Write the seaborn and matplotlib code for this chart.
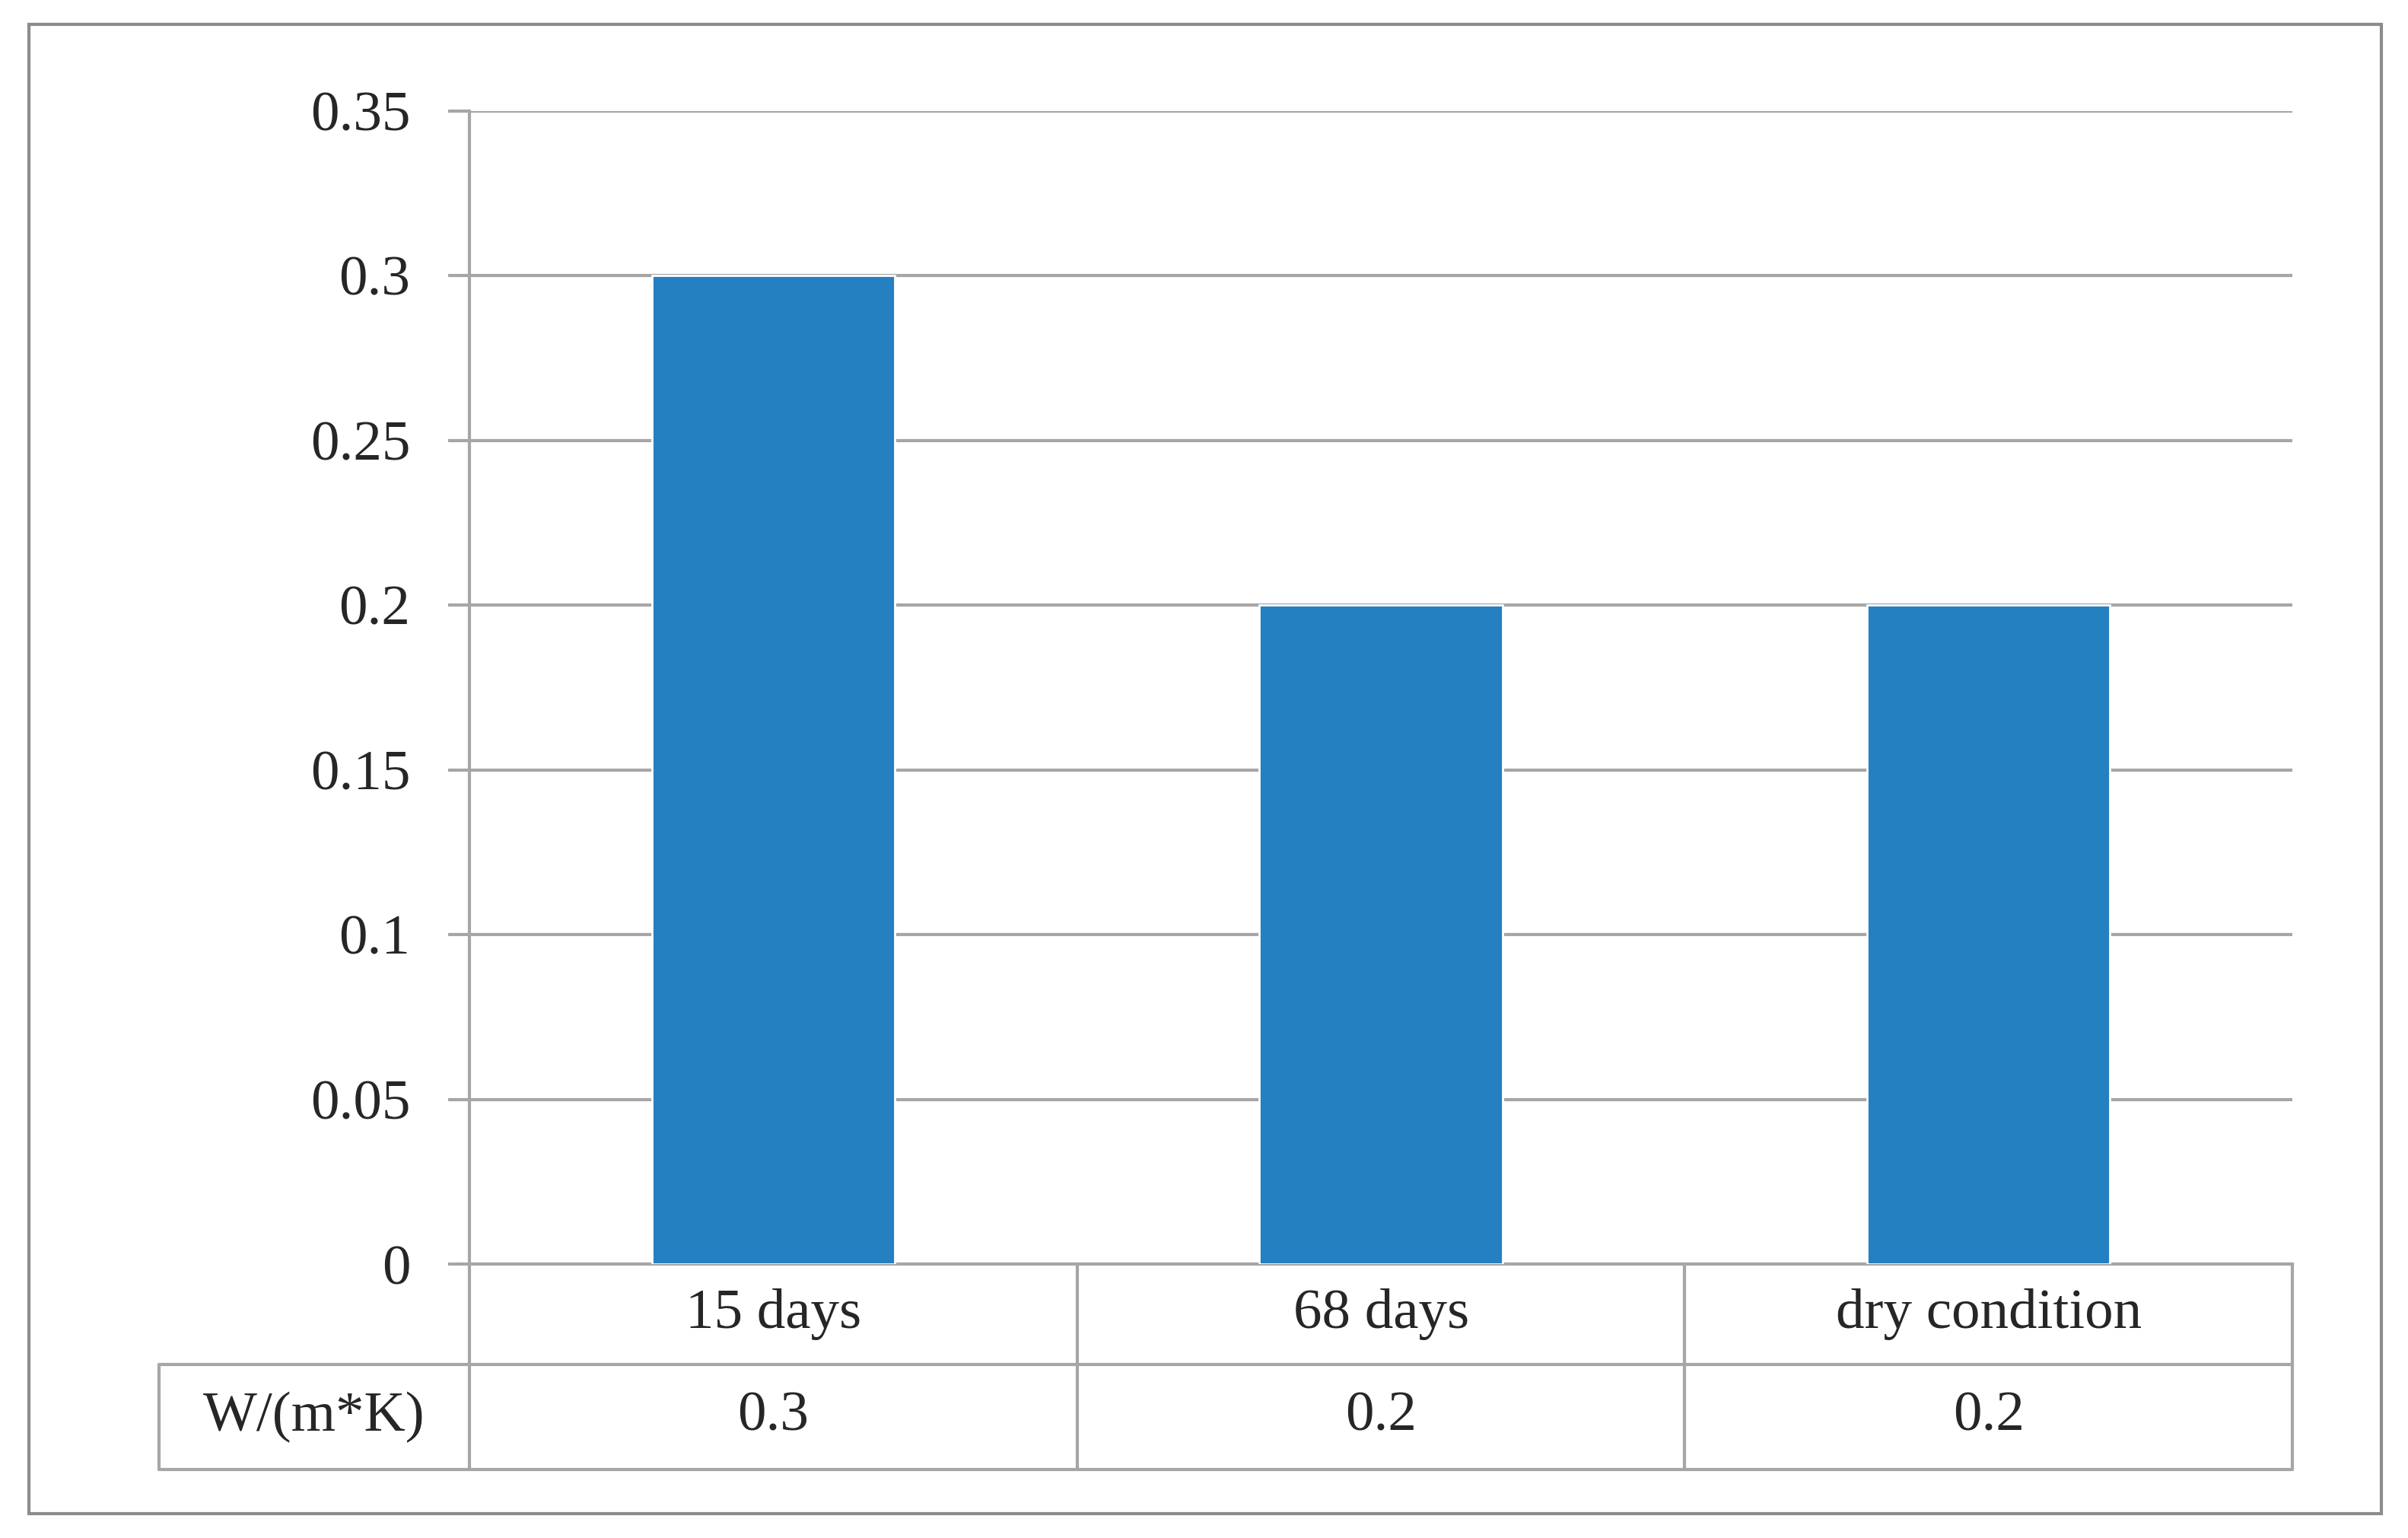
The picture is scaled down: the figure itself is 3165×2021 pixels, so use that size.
import matplotlib
matplotlib.use("Agg")
import matplotlib.pyplot as plt
import matplotlib.transforms as mtransforms
from matplotlib.patches import Rectangle
import seaborn as sns
import pandas as pd

# # DATA

categories = ["15 days", "68 days", "dry condition"]
values = [0.3, 0.2, 0.2]
table_labels = ["0.3", "0.2", "0.2"]
row_header = "W/(m*K)"
y_ticks = [0, 0.05, 0.1, 0.15, 0.2, 0.25, 0.3, 0.35]
y_tick_labels = ["0", "0.05", "0.1", "0.15", "0.2", "0.25", "0.3", "0.35"]

df = pd.DataFrame({"category": categories, "value": values})

sns.set_style("white")
plt.rcParams['font.family'] = ['Liberation Serif', 'DejaVu Serif']

grey = "#a6a6a6"
fs = 27

fig = plt.figure(figsize=(15.825, 10.105), dpi=200)
fig.patches.append(Rectangle((0.012, 0.016), 0.977, 0.968, transform=fig.transFigure,
                             fill=False, edgecolor="#8c8c8c", lw=1.5))
ax = fig.add_axes([0.195, 0.178, 0.757, 0.75])

sns.barplot(data=df, x="category", y="value", color="#2480c0", width=0.4,
            saturation=1, ax=ax, zorder=3)

ax.set_xlim(-0.5, 2.5)
ax.set_ylim(0, 0.35)
ax.set_yticks(y_ticks)
ax.set_yticklabels(y_tick_labels, fontsize=fs)
ax.set_xticks([])
ax.set_xlabel("")
ax.set_ylabel("")
ax.yaxis.grid(True, color=grey, lw=1.5, zorder=0)
ax.tick_params(axis="y", left=True, length=10, color=grey, width=1.5, pad=18)
for side in ["top", "right"]:
    ax.spines[side].set_visible(False)
for side in ["left", "bottom"]:
    ax.spines[side].set_color(grey)
    ax.spines[side].set_linewidth(1.5)

# # DATA TABLE UNDER THE AXIS

tr = mtransforms.blended_transform_factory(ax.transData, ax.transAxes)
r1, r2 = -0.087, -0.178
left_edge = -1.011
line_kw = dict(color=grey, lw=1.5, transform=tr, clip_on=False)
ax.plot([-0.5, 2.5], [r1, r1], **line_kw)
ax.plot([left_edge, 2.5], [r2, r2], **line_kw)
ax.plot([left_edge, left_edge], [r1, r2], **line_kw)
ax.plot([left_edge, -0.5], [r1, r1], **line_kw)
for xb in [-0.5, 0.5, 1.5, 2.5]:
    ax.plot([xb, xb], [0, r2], **line_kw)

for i, (cat, lab) in enumerate(zip(categories, table_labels)):
    ax.text(i, r1 / 2, cat, transform=tr, ha="center", va="center", fontsize=fs)
    ax.text(i, (r1 + r2) / 2, lab, transform=tr, ha="center", va="center", fontsize=fs)
ax.text((left_edge - 0.5) / 2, (r1 + r2) / 2, row_header, transform=tr,
        ha="center", va="center", fontsize=fs)

fig.savefig("out.png", dpi=200)
